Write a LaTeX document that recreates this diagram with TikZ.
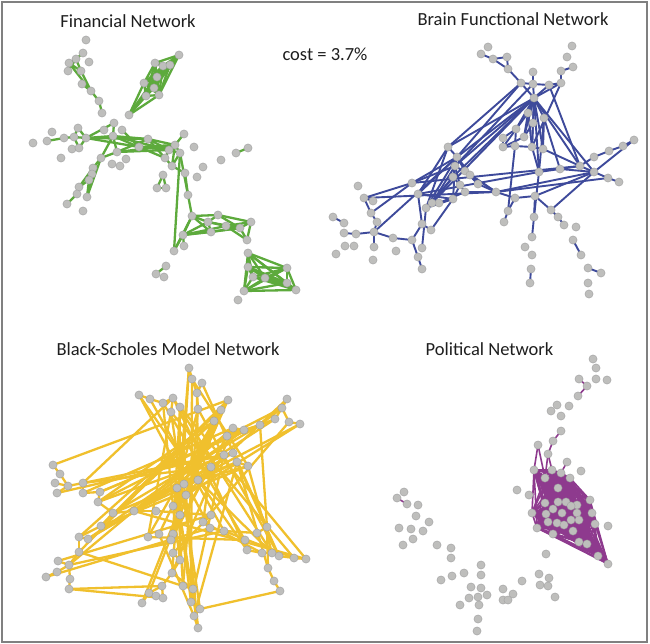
\documentclass[tikz,border=0pt]{standalone}
\usepackage{fontspec}
\setmainfont{Carlito}
\definecolor{fgreen}{RGB}{93,170,60}
\definecolor{bblue}{RGB}{62,74,155}
\definecolor{kyellow}{RGB}{240,192,45}
\definecolor{ppurple}{RGB}{142,58,142}
\definecolor{nodegray}{RGB}{190,190,188}
\definecolor{nodeedge}{RGB}{160,160,160}
\definecolor{framegray}{RGB}{128,128,128}
\definecolor{titlegray}{RGB}{30,30,30}
\pgfdeclarelayer{bg}
\pgfdeclarelayer{edges}
\pgfsetlayers{bg,edges,main}
\tikzset{
  dot/.style={circle, fill=nodegray, draw=nodeedge, line width=0.4pt, minimum size=8.2pt, inner sep=0pt},
  gedge/.style={draw=fgreen, line width=2.3pt},
  bedge/.style={draw=bblue, line width=1.9pt},
  kedge/.style={draw=kyellow, line width=2.3pt},
  pedge/.style={draw=ppurple, line width=1.6pt},
  title/.style={font=\fontsize{18.5}{20}\selectfont, text=titlegray, anchor=base, inner sep=0pt}
}
\begin{document}
\begin{tikzpicture}[x=1pt,y=-1pt]
\useasboundingbox (0,0) rectangle (650,644);
\begin{pgfonlayer}{bg}
\fill[white] (0,0) rectangle (650,644);
\end{pgfonlayer}
\draw[framegray, line width=1.5pt] (2,2) rectangle (647,642);

% titles
\node[title] (t1) at (128,27.3) {Financial Network};
\node[title] (t0) at (325,61) {cost = 3.7\%};
\node[title] (t2) at (513,26) {Brain Functional Network};
\node[title] (t3) at (168,355) {Black-Scholes Model Network};
\node[title] (t4) at (489.5,355) {Political Network};

% ---------------- Financial network nodes
\foreach \i/\x/\y in {1/86/40,2/83/53,3/89/62,4/76/59,5/69/63,6/68/71,7/81/71,8/82/84,9/91/91,10/99/101,
11/102/113,12/179/55,13/155/63,14/163/66,15/170/65,16/157/77,17/144/83,18/154/88,19/146/96,20/159/95,
21/129/115,22/33/143,23/47/141,24/52/132,25/64/138,26/74/137,27/78/128,28/86/138,29/72/149,30/79/148,
31/61/158,32/104/130,33/114/123,34/122/130,35/113/136,36/148/139,37/139/147,38/117/152,39/101/158,40/112/164,
41/120/166,42/126/159,43/184/134,44/175/145,45/194/147,46/169/150,47/180/153,48/165/158,49/172/166,50/203/167,
51/221/160,52/236/153,53/248/148,54/185/173,55/197/177,56/163/175,57/157/188,58/166/188,59/93/168,60/92/174,
61/89/180,62/79/187,63/77/194,64/87/197,65/67/204,66/83/211,67/188/195,68/192/216,69/208/222,70/218/215,
71/226/226,72/211/232,73/183/235,74/240/228,75/251/222,76/247/240,77/174/251,78/184/246,79/248/253,80/248/267,
81/253/277,82/265/278,83/287/268,84/287/283,85/296/290,86/244/291,87/238/300,88/166/266,89/156/274,90/164/277}
  \node[dot] (f\i) at (\x,\y) {};

% ---------------- Brain network nodes
\foreach \i/\x/\y in {1/488/47,2/481/54,3/493/59,4/507/57,5/508/69,6/572/46,7/567/57,8/573/67,9/561/71,10/533/72,
11/521/83,12/533/84,13/549/85,14/561/83,15/534/98,16/528/113,17/544/118,18/533/123,19/516/129,20/524/137,
21/503/138,22/503/147,23/515/146,24/532/147,25/543/149,26/448/147,27/457/157,28/455/166,29/465/171,30/453/177,
31/470/175,32/460/185,33/478/184,34/465/192,35/496/192,36/453/199,37/439/203,38/432/203,39/426/208,40/412/183,
41/418/194,42/358/186,43/364/198,44/373/201,45/371/213,46/377/222,47/374/232,48/356/234,49/344/223,50/333/217,
51/344/233,52/345/246,53/354/246,54/336/254,55/374/247,56/373/260,57/396/251,58/393/238,59/412/240,60/422/224,
61/431/230,62/422/248,63/418/257,64/422/269,65/539/172,66/560/169,67/580/166,68/594/157,69/609/151,70/623/146,
71/634/140,72/594/172,73/608/178,74/619/182,75/515/198,76/535/196,77/508/211,78/504/222,79/551/210,80/558/217,
81/534/217,82/564/225,83/532/237,84/525/247,85/532/255,86/531/269,87/530/283,88/576/227,89/573/240,90/581/255,
91/588/268,92/601/273,93/588/283,94/589/294}
  \node[dot] (b\i) at (\x,\y) {};

% ---------------- Black-Scholes network nodes
\foreach \i/\x/\y in {1/189/368,2/192/379,3/202/383,4/197/393,5/198/409,6/139/395,7/150/399,8/163/403,9/173/398,10/171/412,
11/180/407,12/228/400,13/221/410,14/214/421,15/287/399,16/282/408,17/275/419,18/289/422,19/300/424,20/260/425,
21/244/430,22/233/428,23/227/436,24/233/453,25/224/455,26/237/462,27/248/466,28/211/467,29/198/480,30/184/484,
31/177/488,32/186/495,33/173/506,34/180/515,35/211/515,36/203/522,37/210/528,38/224/531,39/173/534,40/171/540,
41/159/534,42/148/537,43/156/511,44/134/511,45/113/513,46/101/526,47/98/502,48/100/492,49/83/493,50/83/483,
51/68/486,52/55/483,53/57/493,54/60/474,55/53/465,56/88/539,57/79/537,58/79/552,59/69/565,60/58/561,
61/57/572,62/46/577,63/70/579,64/69/589,65/173/553,66/180/560,67/172/573,68/162/586,69/149/593,70/142/603,
71/156/596,72/163/598,73/183/586,74/193/589,75/191/602,76/200/609,77/194/616,78/198/628,79/245/540,80/247/550,
81/257/533,82/267/527,83/262/553,84/272/553,85/279/556,86/294/558,87/306/559,88/268/568,89/274/581,90/280/591}
  \node[dot] (k\i) at (\x,\y) {};

% ---------------- Political network nodes
\foreach \i/\x/\y in {1/593/359,2/596/368,3/579/379,4/587/386,5/596/379,6/607/380,7/578/396,8/569/406,9/557/405,10/551/411,
11/561/416,12/561/431,13/553/441,14/538/445,15/548/454,16/567/462,17/581/471,18/534/470,19/552/470,20/561/473,
21/570/478,22/545/478,23/558/488,24/517/490,25/529/495,26/590/500,27/545/503,28/558/502,29/566/502,30/577/505,
31/571/506,32/553/509,33/532/513,34/546/514,35/562/513,36/577/513,37/592/513,38/548/522,39/557/523,40/564/525,
41/571/520,42/579/520,43/595/524,44/608/526,45/537/528,46/573/531,47/553/534,48/579/542,49/587/544,50/546/554,
51/598/556,52/608/564,53/404/492,54/397/498,55/407/504,56/418/505,57/416/516,58/399/528,59/411/529,60/429/522,
61/423/531,62/413/539,63/403/545,64/437/545,65/451/548,66/451/558,67/441/580,68/452/576,69/464/573,70/481/565,
71/481/575,72/471/587,73/481/588,74/469/598,75/478/597,76/487/595,77/460/605,78/479/605,79/478/619,80/477/631,
81/503/589,82/513/594,83/503/600,84/508/600,85/522/581,86/539/574,87/549/578,88/540/585,89/548/586,90/555/597}
  \node[dot] (p\i) at (\x,\y) {};

\begin{pgfonlayer}{edges}
% Financial edges
\foreach \a/\b in {2/4,4/5,4/7,5/7,6/4,7/9,5/9,8/9,9/10,10/11,
21/12,21/17,21/19,21/20,21/16,21/14,
23/25,25/26,26/28,27/26,27/28,26/30,29/30,30/28,28/35,28/33,28/37,35/36,36/44,35/37,37/46,35/46,37/44,
36/46,38/36,38/44,38/46,39/35,39/38,35/38,33/35,34/37,36/48,37/48,48/46,44/47,46/47,47/49,44/49,48/49,
47/67,67/68,47/77,43/44,49/54,54/67,28/36,
59/39,59/60,60/61,61/62,62/63,63/65,39/64,61/64,59/62,60/64,
56/57,56/58,57/58,
68/69,68/70,68/72,68/73,69/70,69/71,69/72,69/74,70/74,70/75,71/74,71/75,72/74,73/69,73/71,73/72,73/74,
74/75,74/76,75/76,71/76,73/77,77/68,78/73,
52/53,88/89}
  \draw[gedge] (f\a.center) -- (f\b.center);
\foreach \a in {12,...,20}{\foreach \b in {12,...,20}{\ifnum\a<\b \draw[gedge] (f\a.center) -- (f\b.center);\fi}}
\foreach \a in {79,...,86}{\foreach \b in {79,...,86}{\ifnum\a<\b \draw[gedge] (f\a.center) -- (f\b.center);\fi}}

% Brain edges
\foreach \a/\b in {2/3,3/4,3/5,4/5,5/11,11/12,12/13,13/14,10/12,9/14,9/8,11/15,12/15,13/15,14/15,
15/16,15/17,15/18,15/19,15/20,15/24,15/25,15/26,15/27,15/28,15/30,15/38,11/27,11/26,12/28,15/65,15/67,15/72,
16/24,17/65,18/24,19/21,19/23,20/22,21/22,22/23,23/24,24/25,24/65,25/67,16/20,18/20,17/25,13/67,14/24,17/66,16/22,
26/27,27/28,27/29,27/30,28/30,28/31,28/32,28/36,29/33,29/35,30/32,30/39,30/38,31/33,32/34,33/35,34/35,32/36,
34/37,36/37,28/38,27/39,26/39,26/41,27/41,40/27,40/28,41/36,39/36,37/38,38/39,29/31,31/35,27/33,
40/67,43/35,35/73,41/65,35/72,43/40,45/40,43/44,43/45,45/46,46/47,47/48,48/51,50/49,47/55,47/58,58/59,59/60,
60/41,60/61,59/63,63/64,47/27,36/61,39/62,
67/68,68/69,69/70,70/71,72/71,66/72,72/73,73/74,67/72,66/67,65/66,35/75,75/76,75/77,77/78,76/79,79/80,80/82,
76/81,81/83,86/87,89/90,91/92,65/81,23/77,72/79,72/76}
  \draw[bedge] (b\a.center) -- (b\b.center);

% Black-Scholes edges
\foreach \a/\b in {1/2,2/4,3/4,4/5,2/75,1/34,4/29,5/31,5/73,
6/7,7/8,8/9,9/10,8/79,9/80,10/76,10/42,11/66,11/39,8/33,
12/13,13/14,14/41,14/70,14/39,14/40,14/42,14/46,13/69,12/32,14/33,13/30,
15/16,16/17,16/20,16/18,18/19,17/20,20/21,20/23,20/82,20/48,21/22,22/23,21/44,23/39,23/40,22/67,
24/25,24/26,26/27,26/85,26/88,27/84,25/75,24/47,26/77,27/30,
28/29,28/50,28/36,29/30,30/31,31/32,32/33,33/34,31/73,32/74,34/75,33/66,30/78,
35/36,36/37,37/38,38/81,38/86,35/43,43/44,44/45,45/47,36/83,
46/45,46/57,46/12,47/48,48/49,49/50,50/51,51/52,51/53,54/55,54/51,50/9,49/22,
56/57,57/58,58/59,59/60,59/61,61/62,59/63,63/64,59/38,58/73,64/68,56/24,57/13,
65/66,66/67,67/68,68/69,69/70,71/72,68/72,65/35,67/74,
73/74,74/75,75/76,76/77,77/78,76/90,78/34,77/41,
79/80,80/83,81/82,82/88,83/84,84/85,85/86,86/87,88/89,89/90,79/42,87/44,84/29,
20/45,21/56,16/47,12/58,19/31,17/44,15/33,22/59,27/46,26/44,6/80,7/38,3/82,2/27,50/24,53/25,
48/20,45/26,10/86,11/87,60/35,62/37,64/72,56/28,47/14,55/12,9/84,6/37,19/32,18/36,5/85,1/67}
  \draw[kedge] (k\a.center) -- (k\b.center);

% Political edges
\foreach \a/\b in {3/4,4/7,12/13,14/18,15/19,13/15,15/22,16/20,14/22,54/55}
  \draw[pedge] (p\a.center) -- (p\b.center);
\foreach \a in {18,19,20,21,22,23,26,27,28,29,30,31,32,33,34,35,36,37,38,39,40,41,42,43,45,46,47,48,49,51,52}{
  \foreach \b in {18,19,20,21,22,23,26,27,28,29,30,31,32,33,34,35,36,37,38,39,40,41,42,43,45,46,47,48,49,51,52}{
    \ifnum\a<\b \draw[pedge] (p\a.center) -- (p\b.center);\fi}}
\end{pgfonlayer}
\end{tikzpicture}
\end{document}
